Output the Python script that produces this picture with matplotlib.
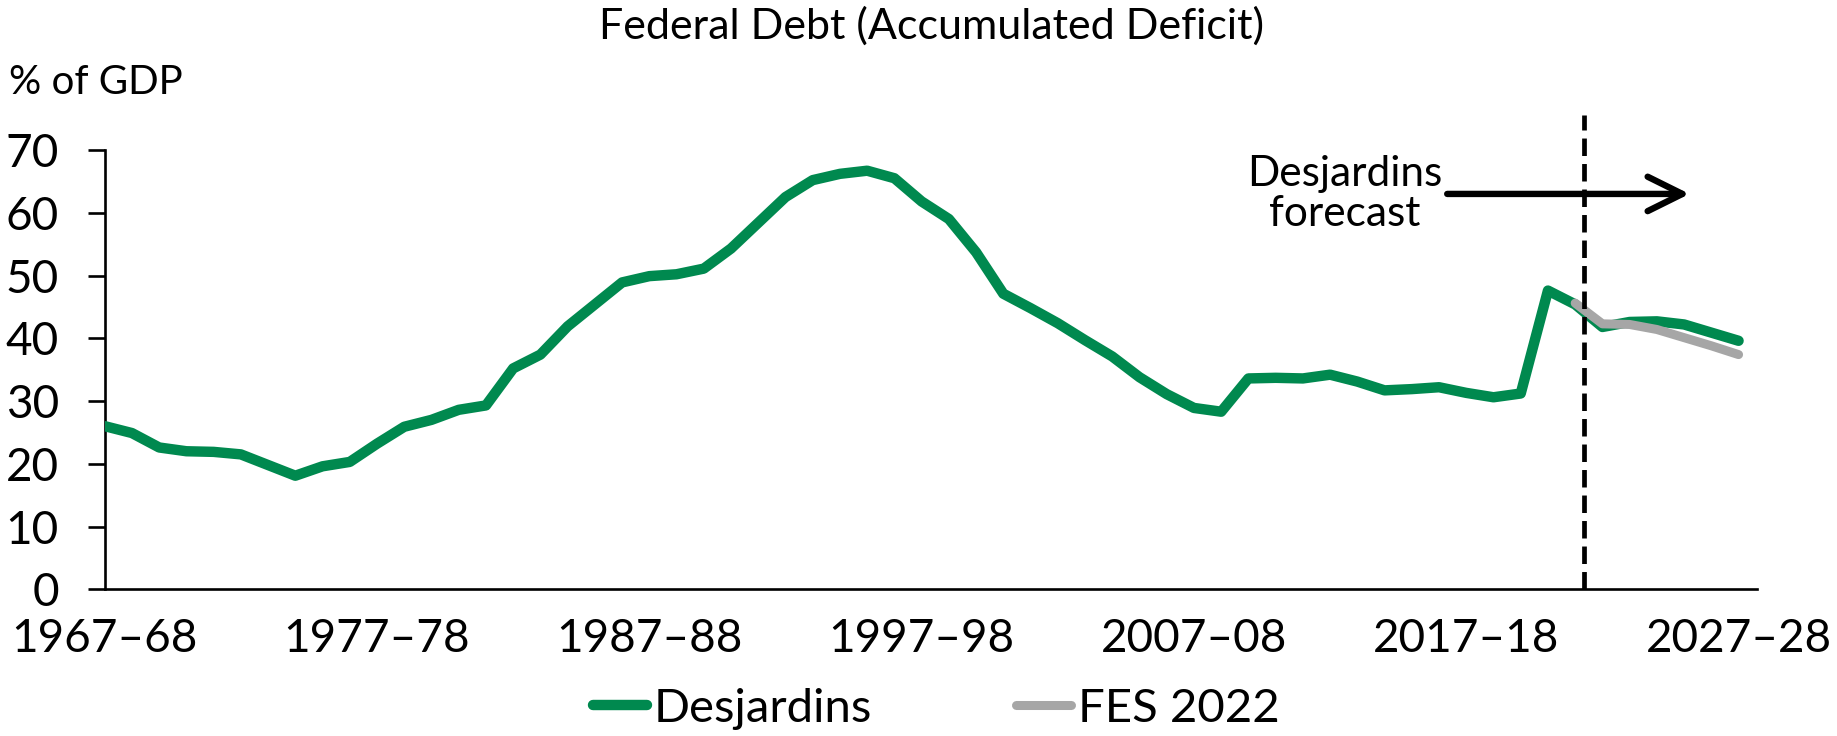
import numpy as np
import matplotlib
matplotlib.use("Agg")
import matplotlib.pyplot as plt

plt.rcParams['font.family'] = ['Lato', 'DejaVu Sans']

# ---------------- data ----------------
tick_labels = ["1967–68", "1977–78", "1987–88", "1997–98", "2007–08", "2017–18", "2027–28"]
tick_index = [0, 10, 20, 30, 40, 50, 60]

# Desjardins: federal debt, % of GDP, 1967-68 .. 2027-28
desjardins = [26.0, 24.9, 22.6, 22.0, 21.9, 21.5, 19.8, 18.1, 19.6, 20.3,
              23.2, 25.9, 27.0, 28.6, 29.3, 35.2, 37.4, 41.9, 45.4, 48.9,
              49.9, 50.2, 51.1, 54.3, 58.4, 62.5, 65.2, 66.2, 66.7, 65.5,
              61.8, 59.0, 53.7, 47.1, 44.8, 42.4, 39.7, 37.1, 33.8, 31.1,
              28.9, 28.3, 33.6, 33.7, 33.6, 34.2, 33.1, 31.7, 31.9, 32.2,
              31.3, 30.6, 31.2, 47.6, 45.4, 41.8, 42.6, 42.7, 42.2, 40.9,
              39.6]

# FES 2022: 2021-22 .. 2027-28
fes_start = 54
fes2022 = [45.6, 42.3, 42.2, 41.4, 40.1, 38.8, 37.4]

forecast_start = 54.32
yticks = [0, 10, 20, 30, 40, 50, 60, 70]

GREEN = '#00894F'
GREY = '#A6A6A6'

# ---------------- figure ----------------
fig = plt.figure(figsize=(18.37, 7.36), dpi=100)
ax = fig.add_axes([0.0570, 0.1993, 0.8995, 0.5969])

x = np.arange(len(desjardins))
x_fes = np.arange(fes_start, fes_start + len(fes2022))

ax.plot(x, desjardins, color=GREEN, lw=7.5, solid_capstyle='round',
        solid_joinstyle='round', label='Desjardins', zorder=3)
ax.plot(x_fes, fes2022, color=GREY, lw=6.5, solid_capstyle='round',
        solid_joinstyle='round', label='FES 2022', zorder=4)

ax.set_xlim(0, 60.68)
ax.set_ylim(0, 70)
ax.set_yticks(yticks)
ax.set_xticks(tick_index)
ax.set_xticklabels(tick_labels)

for s in ['top', 'right']:
    ax.spines[s].set_visible(False)
for s in ['left', 'bottom']:
    ax.spines[s].set_linewidth(1.9)
    ax.spines[s].set_color('black')

ax.tick_params(axis='y', length=12, width=1.9, pad=21, labelsize=33)
ax.tick_params(axis='x', length=0, pad=21, labelsize=33)

# forecast divider
ax.plot([forecast_start, forecast_start], [0, 75.6], color='black', lw=3.4,
        linestyle=(0, (3.7, 1.7)), clip_on=False, zorder=5)

# annotation
ax.annotate('', xy=(58.2, 63.0), xytext=(49.3, 63.0),
            arrowprops=dict(arrowstyle='->,head_length=1.25,head_width=0.62',
                            lw=4.6, color='black', mutation_scale=20,
                            shrinkA=0, shrinkB=0), zorder=6)
ax.text(45.55, 63.0, 'Desjardins\nforecast', ha='center', va='center',
        fontsize=30.5, linespacing=1.05)

fig.text(931 / 1837, 1 - 26 / 736, 'Federal Debt (Accumulated Deficit)',
         ha='center', va='center', fontsize=31)
fig.text(9 / 1837, 1 - 82 / 736, '% of GDP', ha='left', va='center', fontsize=29)

leg = fig.legend(loc='center', bbox_to_anchor=(936 / 1837, 0.037), ncol=2,
                 frameon=False, fontsize=34, handlelength=1.15,
                 handletextpad=0.15, columnspacing=3.05)

fig.savefig('out.png', dpi=100)
